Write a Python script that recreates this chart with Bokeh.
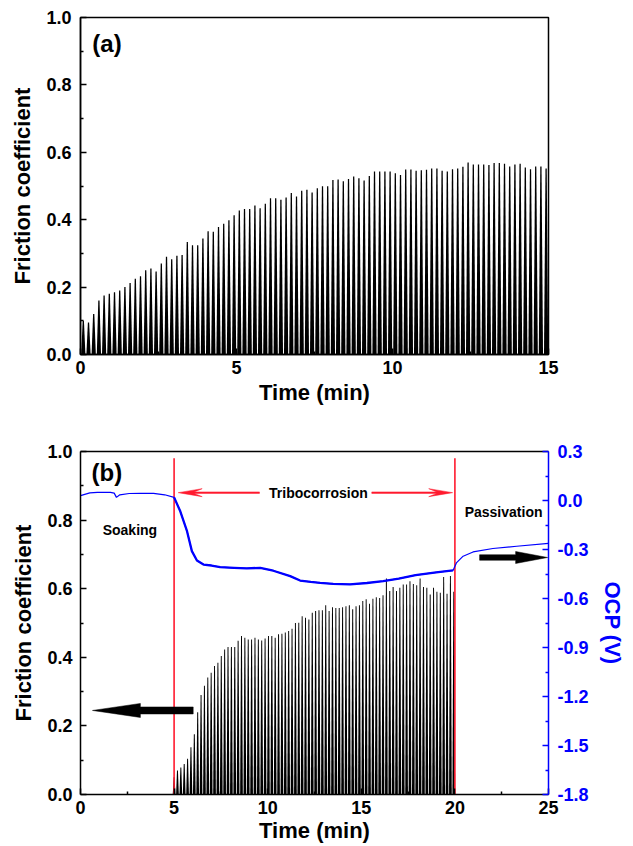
import numpy as np
from bokeh.plotting import figure
from bokeh.layouts import column
from bokeh.models import (Range1d, LinearAxis, FixedTicker, PrintfTickFormatter,
                          Label, PolyAnnotation)
from bokeh.embed import file_html
from bokeh.resources import INLINE

FONT = "Liberation Sans"

# ---------------- data: panel (a) ----------------
a_start = 0.09          # min, first friction cycle
a_period = 1.0 / 6.0    # min per sliding cycle
a_peaks = [0.10, 0.095, 0.12, 0.16, 0.175, 0.18, 0.185, 0.19, 0.20, 0.212,
           0.225, 0.232, 0.25, 0.255, 0.246, 0.27, 0.29, 0.283, 0.293, 0.295,
           0.334, 0.324, 0.324, 0.344, 0.366, 0.364, 0.378, 0.388, 0.398, 0.413,
           0.427, 0.432, 0.432, 0.442, 0.434, 0.447, 0.464, 0.464, 0.459, 0.466,
           0.479, 0.469, 0.486, 0.489, 0.481, 0.493, 0.499, 0.499, 0.518, 0.519,
           0.514, 0.521, 0.528, 0.523, 0.516, 0.530, 0.543, 0.543, 0.543, 0.543,
           0.538, 0.533, 0.549, 0.549, 0.545, 0.547, 0.548, 0.552, 0.552, 0.545,
           0.543, 0.550, 0.552, 0.557, 0.570, 0.564, 0.564, 0.564, 0.562, 0.568,
           0.568, 0.566, 0.558, 0.564, 0.566, 0.555, 0.550, 0.558, 0.558, 0.552]

# ---------------- data: panel (b) ----------------
b_start = 5.0
b_period = 0.18
b_peaks = [0.05, 0.07, 0.079, 0.089, 0.104, 0.138, 0.176, 0.24, 0.29, 0.317,
           0.341, 0.355, 0.375, 0.384, 0.404, 0.423, 0.43, 0.43, 0.43, 0.448,
           0.462, 0.457, 0.452, 0.452, 0.457, 0.452, 0.449, 0.455, 0.462, 0.462,
           0.457, 0.467, 0.469, 0.472, 0.477, 0.483, 0.50, 0.501, 0.52, 0.515,
           0.51, 0.53, 0.535, 0.537, 0.537, 0.552, 0.535, 0.546, 0.544, 0.544,
           0.546, 0.549, 0.552, 0.54, 0.549, 0.552, 0.564, 0.569, 0.556, 0.571,
           0.575, 0.573, 0.581, 0.63, 0.593, 0.605, 0.593, 0.603, 0.612, 0.612,
           0.622, 0.614, 0.61, 0.630, 0.605, 0.603, 0.583, 0.603, 0.591, 0.588,
           0.634, 0.585, 0.637, 0.591]
phase_bounds = [5, 20]
ocp_time = [0.0, 0.5, 0.9, 1.6, 1.8, 1.92, 2.1, 2.6, 3.2, 3.9,
            4.5, 5.0, 5.33, 5.69, 5.95, 6.22, 6.57, 7.0, 7.46, 8.2,
            8.88, 9.6, 10.3, 11.2, 11.73, 12.3, 12.8, 13.5, 14.4, 15.3,
            16.17, 17.0, 17.9, 19.0, 19.9, 20.08, 20.44, 20.97, 22.03, 23.3,
            25.0]
ocp_value = [0.03, 0.047, 0.05, 0.05, 0.045, 0.019, 0.035, 0.043, 0.044, 0.044,
             0.035, 0.019, -0.066, -0.188, -0.31, -0.367, -0.392, -0.398, -0.408, -0.412,
             -0.416, -0.412, -0.43, -0.463, -0.49, -0.498, -0.504, -0.51, -0.514, -0.505,
             -0.494, -0.478, -0.457, -0.44, -0.428, -0.382, -0.341, -0.315, -0.294, -0.28,
             -0.262]

# ---------------- ticks ----------------
y_ticks = [0.0, 0.2, 0.4, 0.6, 0.8, 1.0]
y_minor = [0.1, 0.3, 0.5, 0.7, 0.9]
xa_ticks = [0, 5, 10, 15]
xa_minor = [2.5, 7.5, 12.5]
xb_ticks = [0, 5, 10, 15, 20, 25]
xb_minor = [2.5, 7.5, 12.5, 17.5, 22.5]
ocp_ticks = [-1.8, -1.5, -1.2, -0.9, -0.6, -0.3, 0.0, 0.3]
ocp_minor = [-1.65, -1.35, -1.05, -0.75, -0.45, -0.15, 0.15]

RED = "#ff1a2e"
BLUE = "#0000ff"


def spikes(start, period, peaks, bw, tw):
    xs, ys = [], []
    for k, pk in enumerate(peaks):
        t = start + k * period
        xs.append([t - bw, t - tw, t + tw, t + bw])
        ys.append([0.0, pk, pk, 0.0])
    return xs, ys


def style_axis(ax, color="black", label_size="18px", title_size="22px"):
    ax.axis_line_color = color
    ax.axis_line_width = 1.5
    ax.major_tick_line_color = color
    ax.major_tick_line_width = 1.5
    ax.minor_tick_line_color = color
    ax.minor_tick_line_width = 1.5
    ax.major_tick_in = 6
    ax.major_tick_out = 0
    ax.minor_tick_in = 3
    ax.minor_tick_out = 0
    ax.major_label_text_font = FONT
    ax.major_label_text_font_style = "bold"
    ax.major_label_text_font_size = label_size
    ax.major_label_text_color = color
    ax.axis_label_text_font = FONT
    ax.axis_label_text_font_style = "bold"
    ax.axis_label_text_font_size = title_size
    ax.axis_label_text_color = color


def label(p, x, y, text, size="14px", align="center"):
    p.add_layout(Label(x=x, y=y, text=text, text_font=FONT, text_font_style="bold",
                       text_font_size=size, text_align=align, text_baseline="middle",
                       text_color="black"))


def arrow_poly(p, x_tail, x_tip, y, px_x, px_y, shaft, head_w, head_len, color, notch=0.0):
    """Horizontal arrow drawn as a polygon; sizes in pixels, converted with px_x / px_y."""
    d = 1.0 if x_tip > x_tail else -1.0
    xb = x_tip - d * head_len * px_x
    xn = xb + d * notch * px_x
    hs = shaft / 2.0 * px_y
    hh = head_w / 2.0 * px_y
    xs = [x_tail, xn, xb, x_tip, xb, xn, x_tail]
    ys = [y - hs, y - hs, y - hh, y, y + hh, y + hs, y + hs]
    p.add_layout(PolyAnnotation(xs=xs, ys=ys, fill_color=color, fill_alpha=1.0,
                                line_color=color, line_width=0.5, line_alpha=1.0))


# ================= panel (a) =================
p1 = figure(width=633, height=425, x_range=Range1d(0, 15), y_range=Range1d(0, 1),
            output_backend="svg", toolbar_location=None,
            min_border_left=78, min_border_right=85, min_border_top=17, min_border_bottom=71)
p1.grid.visible = False
p1.outline_line_color = "black"
p1.outline_line_width = 1.5
p1.background_fill_color = "white"
p1.border_fill_color = "white"

xs, ys = spikes(a_start, a_period, a_peaks, 0.068, 0.02)
p1.patches(xs, ys, fill_color="black", line_color=None)

p1.xaxis.ticker = FixedTicker(ticks=xa_ticks, minor_ticks=xa_minor)
p1.yaxis.ticker = FixedTicker(ticks=y_ticks, minor_ticks=y_minor)
p1.yaxis.formatter = PrintfTickFormatter(format="%.1f")
p1.xaxis.axis_label = "Time (min)"
p1.yaxis.axis_label = "Friction coefficient"
style_axis(p1.xaxis[0])
style_axis(p1.yaxis[0])
p1.xaxis.major_label_standoff = 6
p1.xaxis.axis_label_standoff = 3
p1.yaxis.major_label_standoff = 9
p1.yaxis.axis_label_standoff = 8
label(p1, 0.38, 0.923, "(a)", size="24px", align="left")

# ================= panel (b) =================
p2 = figure(width=633, height=421, x_range=Range1d(0, 25), y_range=Range1d(0, 1),
            output_backend="svg", toolbar_location=None,
            min_border_left=80, min_border_right=84, min_border_top=26, min_border_bottom=52)
p2.grid.visible = False
p2.outline_line_color = None
p2.background_fill_color = "white"
p2.border_fill_color = "white"
p2.extra_y_ranges = {"ocp": Range1d(-1.8, 0.3)}

xs, ys = spikes(b_start, b_period, b_peaks, 0.072, 0.025)
p2.patches(xs, ys, fill_color="black", line_color=None)

# phase boundaries
p2.segment(x0=phase_bounds, y0=[0, 0], x1=phase_bounds, y1=[0.98, 0.98],
           line_color=RED, line_width=1.6)

# OCP curve
p2.line(ocp_time, ocp_value, y_range_name="ocp", line_color=BLUE, line_width=1.2)
ot = np.array(ocp_time)
ov = np.array(ocp_value)
mask = (ot >= phase_bounds[0]) & (ot <= phase_bounds[1] - 0.05)
p2.line(ot[mask], ov[mask], y_range_name="ocp", line_color=BLUE, line_width=2.3)

p2.xaxis.ticker = FixedTicker(ticks=xb_ticks, minor_ticks=xb_minor)
p2.yaxis.ticker = FixedTicker(ticks=y_ticks, minor_ticks=y_minor)
p2.yaxis.formatter = PrintfTickFormatter(format="%.1f")
p2.xaxis.axis_label = "Time (min)"
p2.yaxis.axis_label = "Friction coefficient"
style_axis(p2.xaxis[0])
style_axis(p2.yaxis[0])
p2.xaxis.major_label_standoff = 6
p2.xaxis.axis_label_standoff = 1
p2.yaxis.major_label_standoff = 8
p2.yaxis.axis_label_standoff = 8

right = LinearAxis(y_range_name="ocp", axis_label="OCP (V)",
                   ticker=FixedTicker(ticks=ocp_ticks, minor_ticks=ocp_minor),
                   formatter=PrintfTickFormatter(format="%.1f"))
style_axis(right, color=BLUE)
right.major_label_standoff = 9
right.axis_label_standoff = 8
p2.add_layout(right, "right")

top = LinearAxis(ticker=FixedTicker(ticks=[]))
top.axis_line_color = "black"
top.axis_line_width = 1.5
top.major_tick_in = 0
top.major_tick_out = 0
top.minor_tick_in = 0
top.minor_tick_out = 0
top.major_label_text_font_size = "0px"
p2.add_layout(top, "above")

# annotations
label(p2, 0.59, 0.94, "(b)", size="24px", align="left")
label(p2, 2.64, 0.77, "Soaking")
label(p2, 12.71, 0.88, "Tribocorrosion")
label(p2, 22.6, 0.823, "Passivation")

PX_X = 25.0 / 469.0   # minutes per pixel in panel (b)
PX_Y = 1.0 / 343.0    # friction units per pixel in panel (b)
arrow_poly(p2, 9.56, 5.22, 0.88, PX_X, PX_Y, shaft=1.5, head_w=8, head_len=24, color=RED, notch=8)
arrow_poly(p2, 15.56, 19.88, 0.88, PX_X, PX_Y, shaft=1.5, head_w=8, head_len=24, color=RED, notch=8)
arrow_poly(p2, 6.02, 0.64, 0.245, PX_X, PX_Y, shaft=7, head_w=14, head_len=48, color="black")
arrow_poly(p2, 21.32, 24.95, 0.691, PX_X, PX_Y, shaft=5.5, head_w=12, head_len=32, color="black")

layout = column(p1, p2)
open("out.html", "w").write(file_html(layout, INLINE))
